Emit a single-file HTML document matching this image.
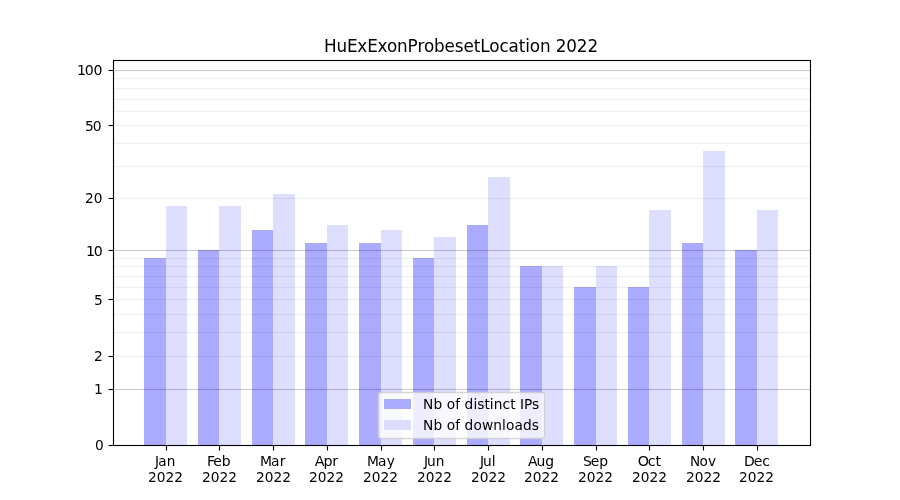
<!DOCTYPE html>
<html lang="en"><head><meta charset="utf-8"><title>HuExExonProbesetLocation 2022</title>
<style>html,body{margin:0;padding:0;background:#fff;width:900px;height:500px;overflow:hidden}svg{display:block}text{font-family:"DejaVu Sans","Liberation Sans",sans-serif;fill:#000}</style></head><body>
<svg width="900" height="500" viewBox="0 0 900 500">
<rect width="900" height="500" fill="#fff"/>
<g shape-rendering="crispEdges" fill="#00f">
<rect x="144" y="258" width="22" height="187" fill-opacity=".33"/>
<rect x="166" y="206" width="21" height="239" fill-opacity=".13"/>
<rect x="198" y="250" width="21" height="195" fill-opacity=".33"/>
<rect x="219" y="206" width="22" height="239" fill-opacity=".13"/>
<rect x="252" y="230" width="21" height="215" fill-opacity=".33"/>
<rect x="273" y="194" width="22" height="251" fill-opacity=".13"/>
<rect x="305" y="243" width="22" height="202" fill-opacity=".33"/>
<rect x="327" y="225" width="21" height="220" fill-opacity=".13"/>
<rect x="359" y="243" width="22" height="202" fill-opacity=".33"/>
<rect x="381" y="230" width="21" height="215" fill-opacity=".13"/>
<rect x="413" y="258" width="21" height="187" fill-opacity=".33"/>
<rect x="434" y="237" width="22" height="208" fill-opacity=".13"/>
<rect x="467" y="225" width="21" height="220" fill-opacity=".33"/>
<rect x="488" y="177" width="22" height="268" fill-opacity=".13"/>
<rect x="520" y="266" width="22" height="179" fill-opacity=".33"/>
<rect x="542" y="266" width="21" height="179" fill-opacity=".13"/>
<rect x="574" y="287" width="22" height="158" fill-opacity=".33"/>
<rect x="596" y="266" width="21" height="179" fill-opacity=".13"/>
<rect x="628" y="287" width="21" height="158" fill-opacity=".33"/>
<rect x="649" y="210" width="22" height="235" fill-opacity=".13"/>
<rect x="682" y="243" width="21" height="202" fill-opacity=".33"/>
<rect x="703" y="151" width="22" height="294" fill-opacity=".13"/>
<rect x="735" y="250" width="22" height="195" fill-opacity=".33"/>
<rect x="757" y="210" width="21" height="235" fill-opacity=".13"/>
</g>
<g shape-rendering="crispEdges" fill="#000">
<rect x="114" y="69" width="696" height="1" fill-opacity="0.012"/><rect x="114" y="70" width="696" height="1" fill-opacity="0.2"/><rect x="114" y="71" width="696" height="1" fill-opacity="0.012"/>
<rect x="114" y="77" width="696" height="1" fill-opacity="0.004"/><rect x="114" y="78" width="696" height="1" fill-opacity="0.06"/><rect x="114" y="79" width="696" height="1" fill-opacity="0.004"/>
<rect x="114" y="87" width="696" height="1" fill-opacity="0.004"/><rect x="114" y="88" width="696" height="1" fill-opacity="0.06"/><rect x="114" y="89" width="696" height="1" fill-opacity="0.004"/>
<rect x="114" y="98" width="696" height="1" fill-opacity="0.004"/><rect x="114" y="99" width="696" height="1" fill-opacity="0.06"/><rect x="114" y="100" width="696" height="1" fill-opacity="0.004"/>
<rect x="114" y="110" width="696" height="1" fill-opacity="0.004"/><rect x="114" y="111" width="696" height="1" fill-opacity="0.06"/><rect x="114" y="112" width="696" height="1" fill-opacity="0.004"/>
<rect x="114" y="124" width="696" height="1" fill-opacity="0.004"/><rect x="114" y="125" width="696" height="1" fill-opacity="0.06"/><rect x="114" y="126" width="696" height="1" fill-opacity="0.004"/>
<rect x="114" y="142" width="696" height="1" fill-opacity="0.004"/><rect x="114" y="143" width="696" height="1" fill-opacity="0.06"/><rect x="114" y="144" width="696" height="1" fill-opacity="0.004"/>
<rect x="114" y="165" width="696" height="1" fill-opacity="0.004"/><rect x="114" y="166" width="696" height="1" fill-opacity="0.06"/><rect x="114" y="167" width="696" height="1" fill-opacity="0.004"/>
<rect x="114" y="197" width="696" height="1" fill-opacity="0.004"/><rect x="114" y="198" width="696" height="1" fill-opacity="0.06"/><rect x="114" y="199" width="696" height="1" fill-opacity="0.004"/>
<rect x="114" y="249" width="696" height="1" fill-opacity="0.012"/><rect x="114" y="250" width="696" height="1" fill-opacity="0.2"/><rect x="114" y="251" width="696" height="1" fill-opacity="0.012"/>
<rect x="114" y="257" width="696" height="1" fill-opacity="0.004"/><rect x="114" y="258" width="696" height="1" fill-opacity="0.06"/><rect x="114" y="259" width="696" height="1" fill-opacity="0.004"/>
<rect x="114" y="265" width="696" height="1" fill-opacity="0.004"/><rect x="114" y="266" width="696" height="1" fill-opacity="0.06"/><rect x="114" y="267" width="696" height="1" fill-opacity="0.004"/>
<rect x="114" y="275" width="696" height="1" fill-opacity="0.004"/><rect x="114" y="276" width="696" height="1" fill-opacity="0.06"/><rect x="114" y="277" width="696" height="1" fill-opacity="0.004"/>
<rect x="114" y="286" width="696" height="1" fill-opacity="0.004"/><rect x="114" y="287" width="696" height="1" fill-opacity="0.06"/><rect x="114" y="288" width="696" height="1" fill-opacity="0.004"/>
<rect x="114" y="298" width="696" height="1" fill-opacity="0.004"/><rect x="114" y="299" width="696" height="1" fill-opacity="0.06"/><rect x="114" y="300" width="696" height="1" fill-opacity="0.004"/>
<rect x="114" y="313" width="696" height="1" fill-opacity="0.004"/><rect x="114" y="314" width="696" height="1" fill-opacity="0.06"/><rect x="114" y="315" width="696" height="1" fill-opacity="0.004"/>
<rect x="114" y="331" width="696" height="1" fill-opacity="0.004"/><rect x="114" y="332" width="696" height="1" fill-opacity="0.06"/><rect x="114" y="333" width="696" height="1" fill-opacity="0.004"/>
<rect x="114" y="355" width="696" height="1" fill-opacity="0.004"/><rect x="114" y="356" width="696" height="1" fill-opacity="0.06"/><rect x="114" y="357" width="696" height="1" fill-opacity="0.004"/>
<rect x="114" y="388" width="696" height="1" fill-opacity="0.012"/><rect x="114" y="389" width="696" height="1" fill-opacity="0.2"/><rect x="114" y="390" width="696" height="1" fill-opacity="0.012"/>
</g>
<g stroke="#000" stroke-width="1.111" fill="none">
<line x1="108.5" x2="113.5" y1="70.5" y2="70.5"/>
<line x1="108.5" x2="113.5" y1="125.5" y2="125.5"/>
<line x1="108.5" x2="113.5" y1="198.5" y2="198.5"/>
<line x1="108.5" x2="113.5" y1="250.5" y2="250.5"/>
<line x1="108.5" x2="113.5" y1="299.5" y2="299.5"/>
<line x1="108.5" x2="113.5" y1="356.5" y2="356.5"/>
<line x1="108.5" x2="113.5" y1="389.5" y2="389.5"/>
<line x1="108.5" x2="113.5" y1="445.5" y2="445.5"/>
<line x1="166.5" x2="166.5" y1="445.5" y2="450.5"/>
<line x1="219.5" x2="219.5" y1="445.5" y2="450.5"/>
<line x1="273.5" x2="273.5" y1="445.5" y2="450.5"/>
<line x1="327.5" x2="327.5" y1="445.5" y2="450.5"/>
<line x1="381.5" x2="381.5" y1="445.5" y2="450.5"/>
<line x1="434.5" x2="434.5" y1="445.5" y2="450.5"/>
<line x1="488.5" x2="488.5" y1="445.5" y2="450.5"/>
<line x1="542.5" x2="542.5" y1="445.5" y2="450.5"/>
<line x1="596.5" x2="596.5" y1="445.5" y2="450.5"/>
<line x1="649.5" x2="649.5" y1="445.5" y2="450.5"/>
<line x1="703.5" x2="703.5" y1="445.5" y2="450.5"/>
<line x1="757.5" x2="757.5" y1="445.5" y2="450.5"/>
<rect x="113.5" y="60.5" width="697" height="385"/>
</g>
<rect x="378.5" y="392.5" width="166" height="46" rx="2.78" ry="2.78" fill="#fff" fill-opacity=".79" stroke="#ccc" stroke-opacity=".8" stroke-width="1.389"/>
<g shape-rendering="crispEdges"><rect x="384" y="399" width="27" height="10" fill="#aaaaff"/><rect x="384" y="420" width="27" height="10" fill="#ddddff"/></g>
<text transform="translate(323.940 51.545) scale(1.0100 1.0500)" x="0.00 12.38 22.77 33.04 42.82 53.09 62.38 72.40 82.80 92.57 99.01 109.03 119.43 129.58 138.24 148.39 154.83 163.74 173.76 182.80 192.82 199.26 203.84 213.86 224.26 229.46 239.98 250.37 260.89" y="0" font-size="16.667">HuExExonProbesetLocation 2022</text>
<text transform="translate(75.905 74.530) scale(1.0200 1.0000)" x="0.98 8.70 17.28" y="0" font-size="13.889">100</text>
<text transform="translate(84.155 130.530) scale(1.0000 1.0400)" x="0.74 8.66" y="0" font-size="13.889">50</text>
<text transform="translate(84.905 202.530) scale(0.9900 1.0400)" x="0.00 8.84" y="0" font-size="13.889">20</text>
<text transform="translate(84.905 255.530) scale(1.0200 0.9500)" x="0.98 8.70" y="0" font-size="13.889">10</text>
<text transform="translate(94.030 304.530) scale(1.0000 1.0300)" x="0.00" y="0" font-size="13.889">5</text>
<text transform="translate(94.030 360.530) scale(1.0000 0.9600)" x="0.00" y="0" font-size="13.889">2</text>
<text transform="translate(93.905 393.530) scale(1.0000 0.9700)" x="0.00" y="0" font-size="13.889">1</text>
<text transform="translate(94.905 449.530) scale(0.9900 1.0400)" x="0.00" y="0" font-size="13.889">0</text>
<text transform="translate(154.387 465.550) scale(0.9800 1.0500)" x="0.51 4.04 12.75" y="0" font-size="13.889">Jan</text>
<text transform="translate(147.949 481.650) scale(0.9900 1.0300)" x="0.00 8.84 17.68 26.52" y="0" font-size="13.889">2022</text>
<text transform="translate(206.123 465.550) scale(1.0000 0.9600)" x="1.00 7.25 15.75" y="0" font-size="13.889">Feb</text>
<text transform="translate(201.936 481.650) scale(0.9900 1.0300)" x="0.00 8.84 17.68 26.52" y="0" font-size="13.889">2022</text>
<text transform="translate(259.985 465.550) scale(1.0000 0.9600)" x="0.00 11.14 19.68" y="0" font-size="13.889">Mar</text>
<text transform="translate(255.922 481.650) scale(0.9900 1.0300)" x="0.00 8.84 17.68 26.52" y="0" font-size="13.889">2022</text>
<text transform="translate(314.221 465.550) scale(1.0300 0.9700)" x="0.48 9.13 17.42" y="0" font-size="13.889">Apr</text>
<text transform="translate(308.909 481.650) scale(0.9900 1.0300)" x="0.00 8.84 17.68 26.52" y="0" font-size="13.889">2022</text>
<text transform="translate(366.458 465.550) scale(0.9900 0.9600)" x="0.50 11.62 20.62" y="0" font-size="13.889">May</text>
<text transform="translate(362.895 481.650) scale(0.9900 1.0300)" x="0.00 8.84 17.68 26.52" y="0" font-size="13.889">2022</text>
<text transform="translate(423.132 465.550) scale(0.9900 1.0000)" x="1.00 4.00 12.75" y="0" font-size="13.889">Jun</text>
<text transform="translate(416.882 481.650) scale(0.9900 1.0600)" x="0.00 8.84 17.68 26.52" y="0" font-size="13.889">2022</text>
<text transform="translate(478.931 465.550) scale(0.9900 1.0100)" x="1.01 4.04 12.88" y="0" font-size="13.889">Jul</text>
<text transform="translate(470.993 481.650) scale(0.9900 1.0300)" x="0.00 8.84 17.68 26.52" y="0" font-size="13.889">2022</text>
<text transform="translate(527.167 465.550) scale(1.0000 1.0100)" x="0.74 9.40 18.07" y="0" font-size="13.889">Aug</text>
<text transform="translate(523.980 481.650) scale(0.9900 1.0300)" x="0.00 8.84 17.68 26.52" y="0" font-size="13.889">2022</text>
<text transform="translate(582.154 465.550) scale(1.0000 0.9600)" x="0.74 8.66 17.08" y="0" font-size="13.889">Sep</text>
<text transform="translate(577.966 481.650) scale(0.9900 1.0300)" x="0.00 8.84 17.68 26.52" y="0" font-size="13.889">2022</text>
<text transform="translate(637.203 465.550) scale(1.0300 1.0100)" x="0.48 10.21 17.78" y="0" font-size="13.889">Oct</text>
<text transform="translate(631.953 481.650) scale(0.9900 1.0300)" x="0.00 8.84 17.68 26.52" y="0" font-size="13.889">2022</text>
<text transform="translate(689.377 465.550) scale(0.9800 1.0600)" x="0.76 10.23 19.07" y="0" font-size="13.889">Nov</text>
<text transform="translate(685.939 481.650) scale(0.9900 1.0300)" x="0.00 8.84 17.68 26.52" y="0" font-size="13.889">2022</text>
<text transform="translate(743.238 465.550) scale(1.0100 0.9600)" x="0.74 10.54 18.87" y="0" font-size="13.889">Dec</text>
<text transform="translate(738.926 481.650) scale(0.9900 1.0300)" x="0.00 8.84 17.68 26.52" y="0" font-size="13.889">2022</text>
<text transform="translate(423.070 408.600) scale(0.9900 1.0400)" x="0.00 10.48 19.44 23.86 32.45 37.50 41.92 50.88 54.80 61.99 67.30 71.46 80.30 88.01 93.56 97.98 102.02 109.97" y="0" font-size="13.889">Nb of distinct IPs</text>
<text transform="translate(423.070 429.500) scale(0.9900 1.0400)" x="0.00 10.48 19.44 23.86 32.45 37.50 41.92 50.88 59.47 70.96 79.80 83.71 92.30 101.01 109.72" y="0" font-size="13.889">Nb of downloads</text>
</svg></body></html>
